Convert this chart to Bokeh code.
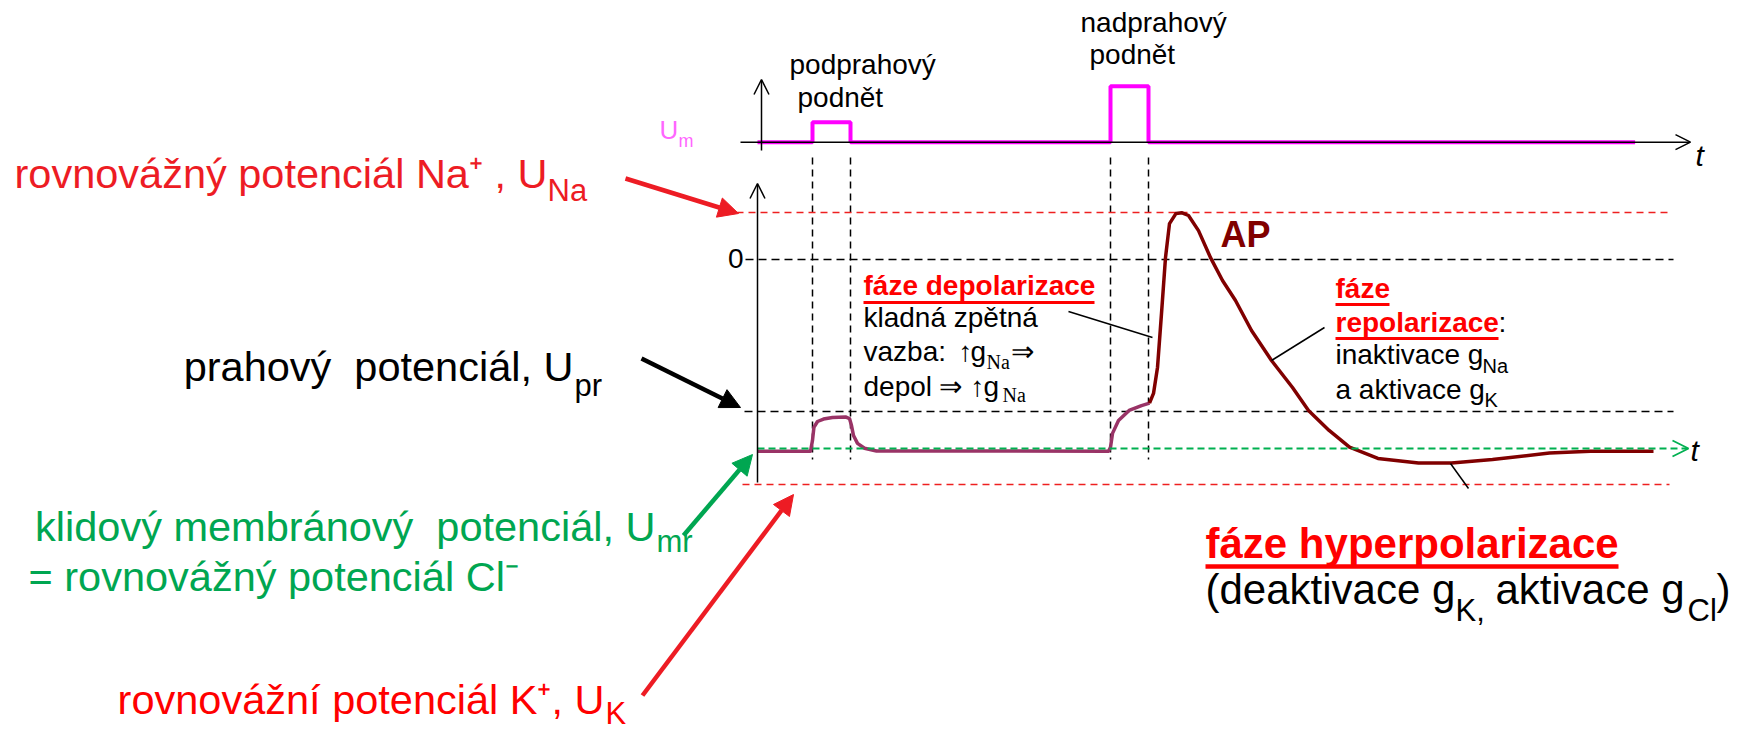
from bokeh.plotting import figure
from bokeh.models import Range1d, Arrow, OpenHead, NormalHead
from bokeh.core.properties import value
from bokeh.embed import file_html
from bokeh.resources import INLINE

# ---------------- data ----------------
# characteristic membrane potentials (mV)
U_NA = 17.4      # equilibrium potential Na+
U_ZERO = 0.0
U_PR = -56.3     # threshold potential
U_MR = -70.0     # resting membrane potential
U_K = -83.3      # equilibrium potential K+

# stimulus (upper trace): step times (ms) and amplitudes (a.u.)
stim_t = [0.0, 1.375, 2.325, 8.825, 9.775, 21.94]
stim_a = [0.0, 1.0, 0.0, 2.8, 0.0, 0.0]

# membrane response: sub-threshold part (ms, mV)
sub_t = [0.0, 1.325, 1.375, 1.41, 1.5, 1.65, 1.875, 2.2, 2.3, 2.35, 2.4, 2.5,
         2.675, 2.975, 8.775, 8.825, 8.875, 9.025, 9.29, 9.6, 9.8]
sub_v = [-71.0, -71.0, -67.0, -62.2, -60.0, -59.1, -58.5, -58.3, -58.9, -61.5,
         -65.2, -68.1, -69.9, -70.9, -71.0, -69.5, -64.4, -59.6, -55.9, -54.1, -53.2]

# action potential (ms, mV)
ap_t = [9.8, 9.9, 10.0, 10.1, 10.2, 10.3, 10.46, 10.615, 10.775, 11.025, 11.325,
        11.625, 11.95, 12.35, 12.85, 13.375, 13.775, 14.29, 14.8, 15.51, 16.525,
        17.35, 18.375, 19.8, 20.825, 22.4]
ap_v = [-53.2, -49.6, -40.0, -20.0, 0.7, 13.3, 17.0, 17.3, 16.3, 10.7, 0.7,
        -7.8, -15.2, -26.3, -37.4, -47.4, -55.9, -63.3, -69.5, -73.7, -75.4,
        -75.4, -74.1, -71.7, -71.0, -71.0]

# ---------------- layout ----------------
W, H = 1737, 732
X0_PX, PX_PER_MS = 757.0, 40.0
Y0_PX, PX_PER_MV = 259.0, 2.7
S0_PX, PX_PER_A = 141.7, 20.0
BASE_K = 0.41   # baseline correction (fraction of font size)


def tx(px):
    return (px - X0_PX) / PX_PER_MS


def vy(py):
    return (Y0_PX - py) / PX_PER_MV


def sy(py):
    return (S0_PX - py) / PX_PER_A


p = figure(width=W, height=H,
           x_range=Range1d(tx(0), tx(W)),
           y_range=Range1d(vy(H), vy(0)),
           x_axis_type=None, y_axis_type=None,
           toolbar_location=None, output_backend="svg",
           min_border=0, outline_line_color=None)
p.extra_y_ranges = {"stim": Range1d(sy(H), sy(0))}
p.background_fill_color = "white"
p.border_fill_color = "white"

FONT = "Liberation Sans"
RED = "#FF0000"
RED2 = "#ED1C24"
GREEN = "#00A651"
PURPLE = "#993366"
MAROON = "#800000"
MAGENTA = "#FF00FF"


def txt(x_px, y_px, s, size, color="black", style="normal", align="left", font=FONT):
    p.text(x=[tx(x_px)], y=[vy(y_px - BASE_K * size)], text=[s],
           text_font=value(font), text_font_size=value(f"{size}px"),
           text_color=color, text_font_style=style,
           text_align=align, text_baseline="alphabetic")


def seg(x0, y0, x1, y1, color="black", width=1.5, dash="solid"):
    p.segment(x0=[tx(x0)], y0=[vy(y0)], x1=[tx(x1)], y1=[vy(y1)],
              line_color=color, line_width=width, line_dash=dash)


# ---- upper panel: stimulus ----
p.add_layout(Arrow(x_start=tx(740), y_start=0, x_end=tx(1690), y_end=0,
                   y_range_name="stim", line_width=1.5, line_color="black",
                   end=OpenHead(size=15, line_width=1.5, line_color="black")))
p.add_layout(Arrow(x_start=tx(761), y_start=sy(150), x_end=tx(761), y_end=sy(79),
                   y_range_name="stim", line_width=1.5, line_color="black",
                   end=OpenHead(size=15, line_width=1.5, line_color="black")))
p.step(x=stim_t, y=stim_a, mode="after", y_range_name="stim",
       line_color=MAGENTA, line_width=4)

# dashed verticals at stimulus edges
edges = stim_t[1:5]
p.segment(x0=edges, y0=[vy(157)] * 4, x1=edges, y1=[vy(459)] * 4,
          line_color="black", line_width=1.5, line_dash="7 5")

# ---- lower panel: reference levels ----
p.segment(x0=[tx(736)], y0=[U_NA], x1=[tx(1669)], y1=[U_NA],
          line_color="#EE2020", line_width=1.5, line_dash="7 5")
p.segment(x0=[tx(745), tx(744)], y0=[U_ZERO, U_PR], x1=[tx(1673), tx(1673)], y1=[U_ZERO, U_PR],
          line_color="black", line_width=1.5, line_dash="8 5")
p.segment(x0=[tx(742)], y0=[U_K], x1=[tx(1669)], y1=[U_K],
          line_color="#EE2020", line_width=1.5, line_dash="7 5")
p.add_layout(Arrow(x_start=0, y_start=U_MR, x_end=tx(1688), y_end=U_MR,
                   line_color="#00B050", line_width=1.8, line_dash="7 4",
                   end=OpenHead(size=16, line_width=1.8, line_color="#00B050")))
p.add_layout(Arrow(x_start=0, y_start=vy(482), x_end=0, y_end=vy(183),
                   line_width=1.5, line_color="black",
                   end=OpenHead(size=15, line_width=1.5, line_color="black")))

# ---- membrane potential traces ----
p.line(sub_t, sub_v, line_color=PURPLE, line_width=3.5, line_join="round")
p.line(ap_t, ap_v, line_color=MAROON, line_width=3.5, line_join="round")


# ---- left side labels + arrows ----
def big_arrow(x0, y0, x1, y1, color):
    p.add_layout(Arrow(x_start=tx(x0), y_start=vy(y0), x_end=tx(x1), y_end=vy(y1),
                       line_color=color, line_width=4.5,
                       end=NormalHead(size=20, fill_color=color, line_color=color, line_width=1)))


NB = "\u00a0 "
txt(547, 190, "rovnovážný potenciál Na⁺ , U", 41.5, RED2, align="right")
txt(547, 203, "Na", 31, RED2)
big_arrow(625, 178, 738, 213, RED2)

txt(573, 383, "prahový" + NB + "potenciál, U", 41.5, "black", align="right")
txt(574, 398, "pr", 31, "black")
big_arrow(641, 358, 740, 407, "black")

txt(655, 543, "klidový membránový" + NB + "potenciál, U", 41.5, GREEN, align="right")
txt(656, 554, "mr", 31, GREEN)
txt(28, 593, "= rovnovážný potenciál Cl⁻", 41.5, GREEN)
big_arrow(683, 535, 752, 454, GREEN)

txt(604, 716, "rovnovážní potenciál K⁺, U", 41.5, RED, align="right")
txt(605, 726, "K", 31, RED)
big_arrow(642, 695, 793, 494, RED2)

# ---- small labels ----
txt(659, 140, "U", 26, "#FF66FF")
txt(678, 148, "m", 18, "#FF66FF")
txt(1695, 167, "t", 30, "black", style="italic")
txt(1690, 462, "t", 30, "black", style="italic")
txt(743, 269, "0", 28, "black", align="right")

txt(789, 75, "podprahový", 28)
txt(797, 108, "podnět", 28)
txt(1080, 33, "nadprahový", 28)
txt(1089, 65, "podnět", 28)

txt(1220, 249, "AP", 36, MAROON, style="bold")

# depolarization block
txt(863, 296, "fáze depolarizace", 28, RED, style="bold")
seg(863, 302, 1094, 302, RED, 3)
txt(863, 328, "kladná zpětná", 28)
txt(863, 362, "vazba:", 28)
txt(965, 362, "↑", 28, align="center")
txt(970, 362, "g", 28)
txt(986, 370, "Na", 20, font="Liberation Serif")
txt(1010, 362, "⇒", 28)
txt(863, 397, "depol", 28)
txt(938, 397, "⇒", 28)
txt(977, 397, "↑", 28, align="center")
txt(983, 397, "g", 28)
txt(1002, 403, "Na", 20, font="Liberation Serif")
seg(1068, 311, 1152, 337)

# repolarization block
txt(1335, 299, "fáze", 28, RED, style="bold")
seg(1335, 304, 1389, 304, RED, 3)
txt(1335, 333, "repolarizace", 28, RED, style="bold")
seg(1335, 338, 1498, 338, RED, 3)
txt(1498, 333, ":", 28)
txt(1335, 365, "inaktivace g", 28)
txt(1482, 374, "Na", 20)
txt(1335, 400, "a aktivace g", 28)
txt(1484, 408, "K", 20)
seg(1271, 360, 1324, 327)

# hyperpolarization block
seg(1450, 463, 1468, 488)
txt(1205, 560, "fáze hyperpolarizace", 42, RED, style="bold")
seg(1205, 566, 1618, 566, RED, 4.5)
txt(1205, 606, "(deaktivace g", 42)
txt(1455, 623, "K,", 31)
txt(1495, 606, "aktivace g", 42)
txt(1687, 623, "Cl", 31)
txt(1730, 606, ")", 42, align="right")

open("out.html", "w").write(file_html(p, INLINE))
